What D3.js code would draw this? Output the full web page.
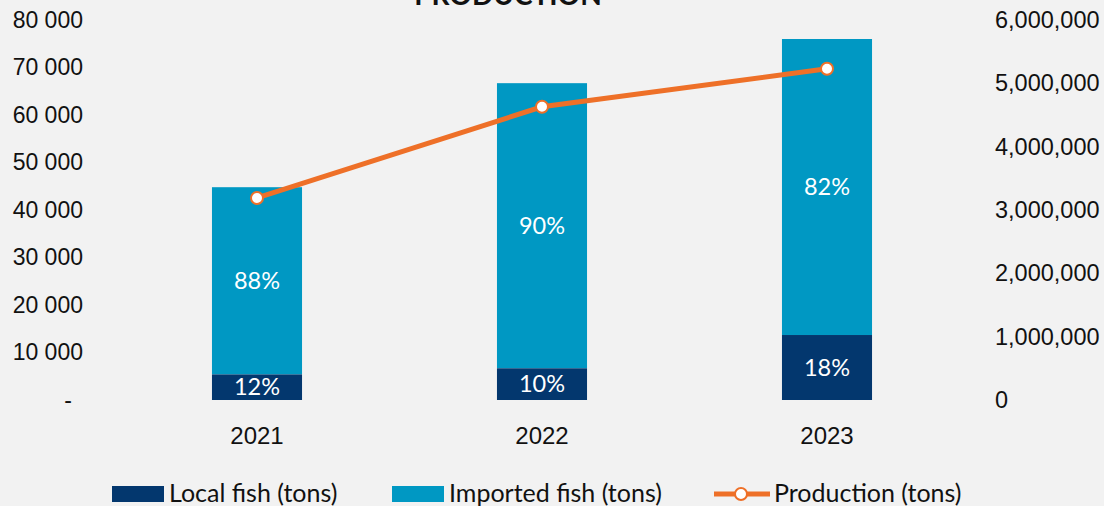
<!DOCTYPE html>
<html><head><meta charset="utf-8">
<script src="https://cdn.jsdelivr.net/npm/d3@7"></script>
<style>
html,body{margin:0;padding:0;background:#F2F2F2;}
svg{display:block;font-family:"Source Sans Pro","Lato","Noto Sans",sans-serif;}
</style></head><body>
<svg id="c" width="1104" height="506"></svg>
<script>
const years = ["2021","2022","2023"];
const localFish = [5380, 6670, 13680];
const importedFish = [39420, 60030, 62320];
const localPct = ["12%","10%","18%"];
const importedPct = ["88%","90%","82%"];
const production = [3190000, 4630000, 5230000];
const leftTicks = [0,10000,20000,30000,40000,50000,60000,70000,80000];
const rightTicks = [0,1000000,2000000,3000000,4000000,5000000,6000000];
const title = "PRODUCTION";
const legendLabels = ["Local fish (tons)","Imported fish (tons)","Production (tons)"];

const C_LOCAL="#03376E", C_IMP="#0098C3", C_LINE="#EE7028";
const svg=d3.select("#c");
const x=d3.scaleBand().domain(years).range([114.5,969.5]).paddingInner(0.684).paddingOuter(0.342);
const yL=d3.scaleLinear().domain([0,80000]).range([400,20]);
const yR=d3.scaleLinear().domain([0,6000000]).range([400,20]);

svg.append("text").attr("x",508).attr("y",5).attr("text-anchor","middle")
  .attr("font-weight","bold").attr("font-size",28).attr("fill","#111").text(title);

// left axis
const fmtL=d=>d===0?"-":d3.format(",")(d).replace(/,/g," ");
const gL=svg.append("g").attr("transform","translate(83,0)")
  .call(d3.axisLeft(yL).tickValues(leftTicks).tickFormat(fmtL).tickSize(0).tickPadding(0));
gL.select(".domain").remove();
gL.selectAll("text").attr("font-size",23).attr("fill","#111").attr("font-family","inherit")
  .attr("text-anchor",d=>d===0?"middle":"end").attr("dx",d=>d===0?-15:0);

const gR=svg.append("g").attr("transform","translate(995,0)")
  .call(d3.axisRight(yR).tickValues(rightTicks).tickFormat(d3.format(",")).tickSize(0).tickPadding(0));
gR.select(".domain").remove();
gR.selectAll("text").attr("font-size",23.5).attr("fill","#111").attr("font-family","inherit");

const gX=svg.append("g").attr("transform","translate(0,427)")
  .call(d3.axisBottom(x).tickSize(0).tickPadding(0));
gX.select(".domain").remove();
gX.selectAll("text").attr("font-size",24).attr("fill","#111").attr("font-family","inherit").attr("dy","0.71em");

// bars
years.forEach((yr,i)=>{
  const lt=yL(localFish[i]), tt=yL(localFish[i]+importedFish[i]);
  svg.append("rect").attr("x",x(yr)).attr("width",x.bandwidth()).attr("y",tt).attr("height",lt-tt).attr("fill",C_IMP);
  svg.append("rect").attr("x",x(yr)).attr("width",x.bandwidth()).attr("y",lt).attr("height",yL(0)-lt).attr("fill",C_LOCAL);
  const cx=x(yr)+x.bandwidth()/2;
  svg.append("text").attr("x",cx).attr("y",(lt+tt)/2).attr("dy","0.35em").attr("text-anchor","middle")
    .attr("fill","#fff").attr("font-size",23.5).text(importedPct[i]);
  svg.append("text").attr("x",cx).attr("y",(lt+yL(0))/2).attr("dy","0.35em").attr("text-anchor","middle")
    .attr("fill","#fff").attr("font-size",23.5).text(localPct[i]);
});

// line
const pts=years.map((yr,i)=>[x(yr)+x.bandwidth()/2,yR(production[i])]);
svg.append("path").attr("d",d3.line()(pts)).attr("fill","none").attr("stroke",C_LINE).attr("stroke-width",5).attr("stroke-linecap","round");
svg.selectAll(".m").data(pts).enter().append("circle").attr("cx",d=>d[0]).attr("cy",d=>d[1]).attr("r",6)
  .attr("fill","#fff").attr("stroke",C_LINE).attr("stroke-width",2);

// legend
const ly=493;
const fs=25;
svg.append("rect").attr("x",112).attr("y",486).attr("width",52).attr("height",16).attr("fill",C_LOCAL);
svg.append("text").attr("x",169).attr("y",ly).attr("dy","0.35em").attr("font-size",fs).attr("fill","#111").text(legendLabels[0]);
svg.append("rect").attr("x",392).attr("y",486).attr("width",52).attr("height",16).attr("fill",C_IMP);
svg.append("text").attr("x",449).attr("y",ly).attr("dy","0.35em").attr("font-size",fs).attr("fill","#111").text(legendLabels[1]);
svg.append("line").attr("x1",714).attr("x2",770).attr("y1",494).attr("y2",494).attr("stroke",C_LINE).attr("stroke-width",5);
svg.append("circle").attr("cx",741).attr("cy",494).attr("r",6).attr("fill","#fff").attr("stroke",C_LINE).attr("stroke-width",2);
svg.append("text").attr("x",774).attr("y",ly).attr("dy","0.35em").attr("font-size",fs).attr("fill","#111").text(legendLabels[2]);
</script></body></html>
